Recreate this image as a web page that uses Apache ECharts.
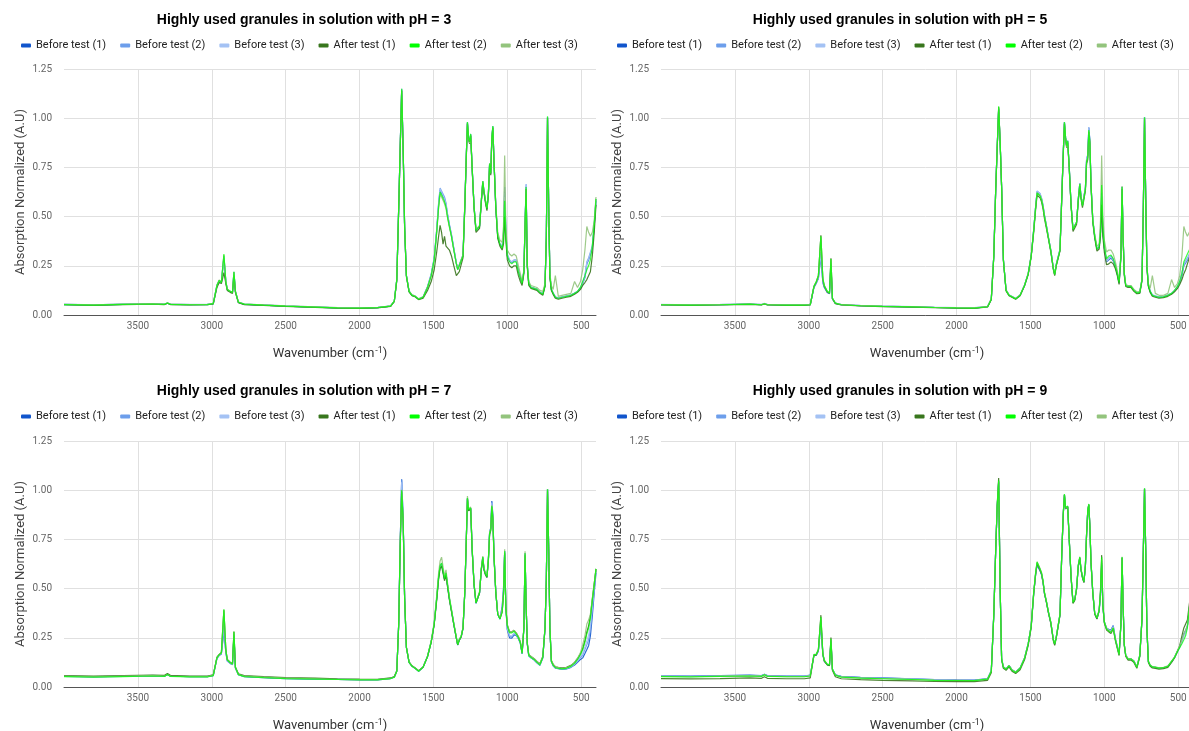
<!DOCTYPE html>
<html><head><meta charset="utf-8">
<script src="https://cdn.jsdelivr.net/npm/echarts@6/dist/echarts.min.js"></script>
<style>html,body{margin:0;padding:0;background:#fff}#c{width:1189px;height:731px}</style>
</head><body><div id="c"></div>
<script>
// ---- x grid (wavenumber, cm-1) shared by all series ----
const wavenumbers = [
 4000,3800,3600,3400,3320,3300,3280,3150,3030,
 2990,2965,2950,2935,2918,2905,2895,2875,2860,2850,2840,2820,2780,
 2650,2500,2300,2150,2000,1880,1790,
 1765,1748,1735,1725,1715,1705,1695,1683,1665,1645,1625,1600,1570,1540,1515,1495,
 1478,1465,1455,1445,1435,1425,1415,1405,1392,1378,1362,1345,1336,1325,1312,1300,
 1288,1278,1270,1262,1255,1248,1238,1225,1212,1200,1188,1176,1166,1158,1148,1138,
 1128,1120,1112,1105,1098,1090,1078,1065,1050,1035,1026,1018,1010,1000,
 985,970,955,940,925,912,900,888,880,873,865,855,840,820,800,780,760,745,
 736,728,720,712,702,690,675,655,630,600,570,545,525,505,490,475,462,450,438,425,412,400
];
const xTickValues = [3500,3000,2500,2000,1500,1000,500];
const seriesNames = ['Before test (1)','Before test (2)','Before test (3)','After test (1)','After test (2)','After test (3)'];
const seriesColors = ['#1155cc','#6d9eeb','#a4c2f4','#38761d','#00ff00','#93c47d'];
const panelTitles = [
 'Highly used granules in solution with pH = 3',
 'Highly used granules in solution with pH = 5',
 'Highly used granules in solution with pH = 7',
 'Highly used granules in solution with pH = 9'
];

// ---- pH = 3 ----
const ph3_before1 = [
 .053,.050,.054,.056,.054,.060,.054,.052,.053,
 .057,.148,.172,.163,.290,.168,.128,.118,.113,.215,.118,.064,.054,
 .050,.045,.040,.036,.035,.037,.045,
 .070,.180,.548,.848,1.145,.848,.448,.200,.120,.100,.095,.080,.090,.142,.205,.285,
 .430,.560,.635,.620,.610,.590,.560,.510,.455,.405,.335,.262,.232,.252,.242,.302,
 .552,.800,.975,.895,.875,.915,.745,.548,.430,.420,.450,.580,.675,.625,.578,.538,
 .618,.765,.718,.895,.955,.778,.548,.398,.358,.345,.400,.650,.420,.300,
 .275,.265,.275,.275,.225,.192,.160,.222,.462,.652,.252,.160,.140,.135,.130,.115,.105,.150,
 .400,1.005,.550,.200,.130,.110,.090,.085,.090,.095,.100,.110,.118,.135,.160,.190,.260,.280,.290,.340,.450,.580
];
const ph3_before2 = [
 .054,.051,.055,.057,.055,.061,.055,.053,.054,
 .058,.152,.176,.166,.300,.172,.130,.120,.116,.220,.120,.065,.055,
 .050,.045,.040,.036,.035,.037,.045,
 .070,.180,.552,.852,1.150,.852,.452,.202,.122,.102,.096,.082,.092,.145,.210,.290,
 .435,.570,.645,.630,.620,.600,.570,.515,.460,.410,.340,.265,.235,.255,.245,.305,
 .555,.805,.980,.900,.880,.920,.750,.550,.432,.422,.452,.582,.680,.630,.580,.540,
 .620,.770,.720,.900,.960,.780,.550,.400,.360,.350,.420,.620,.430,.310,
 .280,.270,.280,.280,.228,.195,.162,.225,.470,.665,.255,.162,.142,.137,.132,.117,.107,.152,
 .400,1.005,.552,.202,.132,.112,.092,.087,.092,.097,.102,.112,.120,.140,.165,.200,.270,.290,.300,.350,.460,.590
];
const ph3_before3 = [
 .055,.052,.056,.058,.056,.062,.056,.054,.055,
 .059,.150,.174,.165,.300,.170,.130,.120,.115,.218,.120,.066,.056,
 .051,.046,.041,.037,.036,.038,.046,
 .071,.180,.550,.850,1.148,.850,.450,.200,.121,.101,.096,.081,.091,.143,.205,.285,
 .430,.565,.640,.625,.615,.590,.565,.510,.455,.405,.335,.262,.233,.253,.243,.303,
 .553,.802,.978,.898,.878,.918,.748,.549,.431,.421,.451,.581,.678,.628,.579,.539,
 .619,.768,.719,.898,.958,.779,.549,.399,.359,.348,.410,.600,.420,.305,
 .278,.268,.278,.278,.226,.193,.161,.223,.465,.660,.253,.161,.141,.136,.131,.116,.106,.151,
 .400,1.005,.551,.201,.131,.111,.091,.086,.091,.096,.101,.111,.119,.138,.162,.195,.265,.285,.295,.345,.455,.585
];
const ph3_after1 = [
 .052,.049,.053,.055,.053,.060,.053,.051,.052,
 .056,.140,.165,.160,.215,.160,.125,.115,.110,.200,.115,.062,.053,
 .049,.044,.039,.035,.034,.036,.044,
 .068,.175,.540,.840,1.140,.840,.440,.195,.118,.098,.093,.078,.085,.125,.170,.230,
 .320,.400,.455,.420,.360,.400,.350,.360,.330,.300,.250,.200,.190,.220,.230,.290,
 .540,.790,.970,.890,.870,.910,.740,.540,.420,.410,.440,.570,.670,.620,.570,.530,
 .610,.760,.710,.890,.950,.770,.540,.390,.350,.330,.360,.500,.380,.280,
 .250,.240,.250,.250,.200,.170,.150,.210,.450,.640,.240,.150,.135,.130,.125,.110,.100,.145,
 .390,1.000,.540,.190,.125,.105,.085,.080,.085,.090,.095,.105,.115,.130,.150,.165,.180,.190,.220,.300,.420,.560
];
const ph3_after2 = [
 .053,.050,.054,.056,.054,.061,.054,.052,.053,
 .058,.150,.175,.165,.310,.170,.130,.120,.115,.220,.120,.065,.055,
 .050,.045,.040,.036,.035,.037,.045,
 .070,.180,.550,.850,1.150,.850,.450,.200,.120,.100,.095,.080,.090,.140,.200,.280,
 .420,.550,.625,.610,.600,.575,.550,.500,.450,.400,.330,.260,.230,.250,.240,.300,
 .550,.800,.980,.900,.880,.920,.750,.550,.430,.420,.450,.580,.680,.630,.580,.540,
 .620,.770,.720,.900,.960,.780,.550,.400,.360,.340,.380,.580,.400,.300,
 .270,.260,.270,.270,.220,.190,.160,.220,.460,.650,.250,.160,.140,.135,.130,.115,.105,.150,
 .400,1.010,.550,.200,.130,.110,.090,.085,.090,.095,.100,.110,.120,.140,.170,.200,.230,.250,.280,.350,.460,.590
];
const ph3_after3 = [
 .054,.051,.055,.057,.055,.062,.055,.053,.054,
 .059,.152,.178,.168,.305,.172,.132,.121,.116,.218,.121,.066,.056,
 .051,.046,.041,.037,.036,.038,.046,
 .071,.182,.552,.845,1.140,.845,.452,.202,.122,.102,.097,.082,.092,.142,.200,.280,
 .420,.545,.615,.600,.590,.565,.540,.495,.445,.398,.330,.262,.235,.255,.245,.305,
 .555,.800,.975,.895,.875,.915,.745,.550,.435,.425,.455,.585,.680,.630,.585,.545,
 .625,.770,.720,.900,.955,.780,.560,.420,.380,.370,.450,.810,.450,.330,
 .310,.300,.310,.300,.250,.210,.170,.230,.460,.640,.260,.170,.150,.145,.140,.125,.120,.160,
 .400,1.000,.550,.210,.150,.130,.200,.095,.100,.105,.110,.170,.140,.170,.230,.330,.450,.420,.400,.420,.480,.600
];

// ---- pH = 5 ----
const ph5_before1 = [
 .052,.050,.052,.055,.052,.057,.052,.050,.050,
 .052,.140,.160,.185,.300,.165,.140,.115,.108,.250,.082,.059,.052,
 .047,.044,.041,.038,.036,.035,.042,
 .080,.300,.640,.850,1.045,.875,.648,.280,.126,.101,.093,.083,.100,.150,.210,.300,
 .432,.548,.625,.632,.612,.590,.555,.505,.452,.392,.327,.237,.207,.257,.247,.332,
 .602,.822,.978,.898,.858,.884,.758,.558,.435,.440,.470,.590,.668,.604,.558,.552,
 .645,.790,.810,.950,.885,.662,.480,.400,.335,.345,.420,.600,.420,.340,
 .270,.280,.290,.275,.245,.205,.162,.300,.650,.400,.210,.150,.145,.145,.125,.112,.115,.180,
 .550,1.005,.600,.250,.150,.120,.100,.095,.090,.092,.100,.108,.122,.140,.165,.200,.250,.265,.280,.300,.330,.370
];
const ph5_before2 = [
 .053,.051,.053,.056,.053,.058,.053,.051,.051,
 .053,.142,.162,.188,.310,.168,.142,.117,.110,.255,.083,.060,.053,
 .048,.045,.042,.039,.037,.036,.043,
 .081,.302,.642,.852,1.048,.878,.650,.282,.127,.102,.094,.084,.101,.151,.211,.301,
 .433,.550,.630,.640,.618,.595,.560,.508,.455,.395,.328,.238,.208,.258,.248,.333,
 .603,.823,.980,.900,.860,.886,.760,.560,.437,.442,.472,.592,.670,.606,.560,.554,
 .648,.795,.815,.955,.890,.665,.482,.402,.337,.347,.425,.620,.430,.345,
 .275,.290,.300,.285,.255,.212,.165,.302,.652,.402,.212,.152,.147,.147,.127,.114,.117,.182,
 .552,1.005,.602,.252,.152,.122,.102,.097,.092,.094,.102,.110,.125,.145,.172,.215,.260,.275,.290,.310,.340,.380
];
const ph5_before3 = [
 .054,.052,.054,.057,.054,.059,.054,.052,.052,
 .054,.144,.164,.190,.320,.170,.144,.118,.111,.260,.084,.061,.054,
 .049,.046,.043,.040,.038,.037,.044,
 .082,.303,.643,.853,1.050,.879,.651,.283,.128,.103,.095,.085,.102,.152,.212,.302,
 .434,.551,.628,.636,.615,.592,.558,.506,.454,.394,.328,.238,.208,.258,.248,.333,
 .603,.823,.979,.899,.859,.885,.759,.559,.436,.441,.471,.591,.669,.605,.559,.553,
 .646,.792,.812,.952,.887,.663,.481,.401,.336,.346,.422,.610,.425,.342,
 .272,.285,.295,.280,.250,.208,.163,.301,.651,.401,.211,.151,.146,.146,.126,.113,.116,.181,
 .551,1.005,.601,.251,.151,.121,.101,.096,.091,.093,.101,.109,.123,.142,.168,.208,.255,.270,.285,.305,.335,.375
];
const ph5_after1 = [
 .051,.049,.051,.054,.051,.056,.051,.049,.049,
 .051,.144,.166,.198,.405,.180,.145,.117,.110,.288,.083,.058,.051,
 .046,.043,.040,.037,.035,.034,.041,
 .078,.295,.635,.845,1.055,.875,.645,.275,.122,.098,.090,.080,.098,.148,.205,.295,
 .420,.535,.610,.615,.595,.575,.540,.490,.440,.385,.320,.230,.200,.250,.240,.325,
 .590,.810,.970,.890,.850,.875,.750,.550,.425,.430,.460,.580,.655,.590,.545,.540,
 .630,.770,.790,.930,.870,.650,.470,.390,.325,.335,.400,.560,.400,.320,
 .255,.260,.270,.260,.235,.200,.155,.290,.640,.390,.200,.145,.140,.140,.120,.108,.110,.175,
 .540,.995,.590,.240,.145,.115,.095,.090,.085,.088,.095,.105,.118,.135,.155,.180,.210,.230,.260,.290,.320,.360
];
const ph5_after2 = [
 .052,.050,.052,.055,.052,.057,.052,.050,.050,
 .052,.146,.168,.200,.400,.185,.150,.120,.112,.285,.085,.060,.052,
 .047,.044,.041,.038,.036,.035,.042,
 .080,.300,.640,.850,1.060,.880,.650,.280,.125,.100,.092,.082,.100,.150,.210,.300,
 .430,.545,.620,.625,.605,.585,.550,.500,.450,.390,.325,.235,.205,.255,.245,.330,
 .600,.820,.980,.900,.860,.885,.760,.560,.435,.440,.470,.590,.665,.600,.555,.550,
 .640,.780,.800,.940,.880,.660,.480,.400,.335,.345,.420,.660,.450,.350,
 .285,.300,.305,.285,.250,.210,.165,.300,.650,.400,.210,.150,.145,.145,.125,.112,.115,.180,
 .550,1.005,.600,.250,.150,.120,.100,.095,.090,.092,.100,.110,.125,.145,.170,.210,.270,.290,.310,.330,.360,.400
];
const ph5_after3 = [
 .053,.051,.053,.056,.053,.058,.053,.051,.051,
 .053,.147,.169,.202,.398,.186,.151,.121,.113,.283,.086,.061,.053,
 .048,.045,.042,.039,.037,.036,.043,
 .081,.302,.642,.852,1.055,.882,.652,.282,.127,.102,.094,.084,.102,.152,.212,.302,
 .432,.547,.622,.627,.607,.587,.552,.502,.452,.392,.327,.237,.207,.257,.247,.332,
 .602,.822,.975,.895,.855,.880,.755,.555,.437,.442,.472,.592,.667,.602,.557,.552,
 .642,.782,.802,.935,.875,.662,.485,.410,.350,.360,.480,.810,.500,.380,
 .320,.330,.330,.310,.270,.225,.175,.310,.655,.405,.215,.155,.150,.150,.130,.118,.120,.185,
 .555,1.000,.600,.255,.160,.135,.200,.110,.100,.100,.110,.180,.140,.160,.200,.300,.450,.420,.400,.420,.440,.450
];

// ---- pH = 7 ----
const ph7_before1 = [
 .054,.051,.054,.057,.055,.063,.055,.052,.052,
 .058,.145,.160,.168,.285,.175,.132,.120,.113,.255,.096,.062,.053,
 .048,.043,.040,.038,.036,.036,.043,
 .050,.080,.325,.730,1.055,.860,.455,.200,.125,.105,.095,.080,.100,.155,.230,.320,
 .450,.558,.612,.625,.585,.548,.575,.518,.448,.388,.318,.248,.213,.238,.256,.298,
 .478,.738,.958,.898,.888,.908,.698,.518,.425,.433,.478,.598,.658,.598,.573,.558,
 .650,.785,.810,.945,.875,.665,.482,.370,.345,.410,.500,.690,.400,.290,
 .250,.248,.265,.262,.245,.222,.168,.298,.678,.418,.218,.158,.148,.138,.123,.110,.148,.298,
 .548,1.005,.700,.300,.128,.108,.096,.093,.090,.092,.100,.112,.125,.140,.148,.170,.190,.210,.260,.360,.480,.580
];
const ph7_before2 = [
 .055,.052,.055,.058,.056,.064,.056,.053,.053,
 .059,.146,.161,.170,.300,.178,.134,.121,.114,.262,.097,.063,.054,
 .049,.044,.041,.039,.037,.037,.044,
 .051,.081,.324,.728,1.050,.858,.454,.201,.126,.106,.096,.081,.101,.156,.231,.321,
 .451,.559,.614,.628,.588,.549,.577,.519,.449,.389,.319,.249,.214,.239,.257,.299,
 .479,.739,.959,.899,.889,.909,.699,.519,.426,.434,.479,.599,.659,.599,.574,.559,
 .651,.783,.806,.940,.870,.663,.481,.371,.346,.400,.490,.690,.401,.295,
 .258,.255,.270,.265,.247,.223,.169,.299,.679,.419,.219,.159,.149,.139,.124,.111,.149,.299,
 .549,1.005,.700,.300,.129,.109,.097,.094,.091,.093,.102,.115,.130,.150,.162,.190,.215,.240,.290,.390,.500,.590
];
const ph7_before3 = [
 .056,.053,.056,.059,.057,.065,.057,.054,.054,
 .060,.147,.162,.171,.320,.180,.135,.122,.115,.265,.098,.064,.055,
 .050,.045,.042,.040,.038,.038,.045,
 .052,.082,.323,.725,1.040,.855,.453,.202,.127,.107,.097,.082,.102,.157,.232,.322,
 .452,.560,.615,.629,.589,.550,.578,.520,.450,.390,.320,.250,.215,.240,.258,.300,
 .480,.740,.960,.900,.890,.910,.700,.520,.427,.435,.480,.600,.660,.600,.575,.560,
 .652,.782,.804,.935,.866,.662,.481,.371,.346,.395,.485,.690,.402,.300,
 .262,.260,.274,.267,.248,.224,.170,.300,.680,.420,.220,.160,.150,.140,.125,.112,.150,.300,
 .550,1.005,.700,.300,.130,.110,.098,.095,.092,.094,.103,.117,.135,.158,.175,.205,.235,.265,.310,.410,.510,.595
];
const ph7_after1 = [
 .058,.055,.058,.061,.059,.068,.059,.056,.056,
 .062,.152,.166,.176,.390,.190,.140,.126,.119,.282,.102,.067,.058,
 .053,.048,.045,.042,.040,.039,.046,
 .053,.082,.318,.715,.990,.845,.448,.202,.128,.108,.098,.083,.102,.155,.228,.315,
 .440,.548,.602,.615,.578,.540,.568,.510,.442,.383,.315,.248,.214,.238,.255,.298,
 .478,.735,.955,.895,.885,.905,.695,.518,.428,.436,.478,.595,.652,.595,.570,.556,
 .645,.775,.795,.915,.855,.655,.478,.372,.348,.382,.468,.680,.402,.315,
 .280,.280,.288,.275,.255,.230,.175,.300,.670,.418,.225,.165,.155,.145,.130,.118,.155,.300,
 .545,.995,.690,.300,.135,.115,.103,.100,.097,.100,.110,.125,.145,.170,.195,.235,.280,.310,.360,.445,.525,.600
];
const ph7_after2 = [
 .053,.050,.053,.056,.054,.063,.054,.051,.051,
 .058,.148,.163,.173,.395,.188,.138,.123,.116,.280,.098,.063,.053,
 .048,.043,.040,.038,.036,.036,.043,
 .050,.080,.320,.720,1.000,.850,.450,.200,.125,.105,.095,.080,.100,.155,.230,.320,
 .450,.560,.615,.630,.590,.550,.580,.520,.450,.390,.320,.250,.215,.240,.258,.300,
 .480,.740,.960,.900,.890,.910,.700,.520,.427,.435,.480,.600,.660,.600,.575,.560,
 .650,.780,.800,.920,.860,.660,.480,.370,.345,.380,.470,.690,.400,.310,
 .275,.275,.283,.270,.250,.225,.170,.300,.680,.420,.220,.160,.150,.140,.125,.112,.150,.300,
 .550,1.005,.700,.300,.130,.110,.098,.095,.092,.095,.105,.120,.140,.165,.190,.230,.270,.300,.350,.440,.520,.600
];
const ph7_after3 = [
 .055,.052,.055,.058,.056,.064,.056,.053,.053,
 .060,.149,.164,.174,.392,.189,.139,.124,.117,.278,.100,.064,.055,
 .050,.045,.042,.039,.037,.037,.044,
 .051,.081,.322,.722,1.002,.852,.452,.202,.127,.107,.097,.082,.102,.157,.235,.330,
 .465,.580,.640,.660,.610,.565,.595,.530,.458,.396,.325,.253,.218,.243,.260,.303,
 .483,.745,.970,.905,.895,.915,.705,.525,.432,.440,.485,.605,.665,.605,.580,.565,
 .655,.785,.805,.925,.865,.665,.485,.375,.350,.385,.475,.700,.405,.315,
 .280,.280,.288,.275,.255,.230,.175,.305,.690,.425,.225,.165,.155,.145,.130,.118,.155,.305,
 .555,1.005,.700,.305,.135,.115,.102,.098,.095,.098,.108,.125,.145,.175,.215,.260,.320,.340,.370,.450,.525,.600
];

// ---- pH = 9 ----
const ph9_before1 = [
 .057,.055,.058,.060,.058,.065,.058,.056,.056,
 .060,.160,.160,.182,.320,.165,.132,.114,.111,.230,.090,.062,.054,
 .049,.046,.042,.038,.036,.035,.043,
 .082,.368,.698,.915,1.040,.498,.144,.102,.092,.110,.087,.076,.097,.147,.220,.308,
 .475,.570,.620,.610,.590,.570,.532,.474,.432,.378,.326,.240,.218,.255,.255,.368,
 .678,.878,.975,.905,.895,.915,.755,.558,.430,.445,.498,.615,.655,.598,.558,.533,
 .618,.780,.895,.925,.818,.630,.478,.373,.348,.385,.465,.620,.410,.330,
 .300,.292,.290,.312,.245,.205,.168,.318,.655,.418,.215,.160,.144,.144,.132,.102,.160,.348,
 .698,1.005,.698,.300,.130,.110,.102,.100,.096,.098,.105,.128,.150,.182,.205,.240,.270,.285,.310,.395,.470,.530
];
const ph9_before2 = [
 .056,.054,.057,.059,.057,.064,.057,.055,.055,
 .059,.162,.162,.185,.330,.167,.133,.114,.111,.235,.090,.061,.053,
 .048,.045,.041,.037,.035,.034,.042,
 .081,.369,.699,.917,1.045,.499,.143,.101,.091,.109,.086,.075,.096,.146,.220,.309,
 .477,.574,.626,.616,.594,.574,.535,.476,.433,.379,.327,.241,.218,.255,.255,.369,
 .679,.879,.977,.907,.897,.917,.757,.559,.431,.446,.499,.617,.657,.599,.559,.534,
 .619,.780,.897,.927,.819,.631,.479,.374,.349,.387,.470,.630,.413,.331,
 .298,.290,.286,.310,.243,.203,.167,.319,.657,.419,.216,.161,.143,.143,.131,.101,.160,.349,
 .699,1.007,.699,.300,.130,.110,.102,.100,.096,.098,.105,.129,.150,.181,.205,.235,.265,.285,.310,.398,.475,.535
];
const ph9_before3 = [
 .055,.053,.056,.058,.056,.063,.056,.054,.054,
 .058,.163,.163,.187,.340,.168,.134,.115,.112,.240,.090,.061,.052,
 .047,.044,.040,.036,.034,.033,.041,
 .081,.369,.699,.918,1.048,.499,.143,.101,.091,.109,.086,.075,.096,.146,.220,.309,
 .478,.577,.630,.620,.597,.577,.537,.478,.434,.380,.327,.241,.218,.255,.255,.369,
 .679,.879,.978,.908,.898,.918,.758,.559,.431,.446,.499,.618,.658,.599,.559,.534,
 .619,.780,.898,.928,.819,.632,.479,.374,.349,.388,.475,.640,.416,.331,
 .297,.288,.283,.306,.242,.202,.166,.319,.658,.419,.216,.161,.143,.143,.131,.101,.160,.349,
 .699,1.008,.699,.300,.130,.110,.102,.100,.096,.098,.105,.129,.150,.181,.202,.228,.255,.275,.305,.398,.478,.538
];
const ph9_after1 = [
 .043,.041,.043,.046,.044,.052,.044,.042,.042,
 .046,.160,.162,.188,.365,.168,.132,.112,.108,.252,.085,.052,.042,
 .037,.034,.031,.028,.027,.027,.034,
 .072,.365,.700,.925,1.062,.505,.138,.095,.085,.102,.080,.068,.088,.138,.212,.302,
 .472,.572,.628,.618,.594,.574,.535,.475,.430,.375,.322,.235,.212,.250,.250,.365,
 .675,.875,.975,.905,.895,.915,.755,.555,.425,.440,.495,.615,.655,.595,.555,.530,
 .615,.775,.895,.925,.815,.628,.475,.370,.345,.390,.490,.670,.415,.325,
 .290,.280,.272,.295,.235,.195,.160,.315,.655,.415,.210,.155,.137,.137,.125,.095,.155,.345,
 .695,1.005,.695,.295,.125,.105,.097,.095,.091,.093,.100,.125,.148,.182,.210,.260,.300,.320,.340,.420,.490,.550
];
const ph9_after2 = [
 .053,.051,.054,.056,.054,.062,.054,.052,.052,
 .056,.165,.165,.190,.355,.170,.135,.115,.112,.245,.090,.060,.050,
 .045,.042,.038,.034,.033,.032,.040,
 .080,.370,.700,.920,1.050,.500,.142,.100,.090,.108,.085,.074,.095,.145,.220,.310,
 .480,.580,.635,.625,.600,.580,.540,.480,.435,.380,.328,.240,.218,.255,.255,.370,
 .680,.880,.980,.910,.900,.920,.760,.560,.430,.445,.500,.620,.660,.600,.560,.535,
 .620,.780,.900,.930,.820,.633,.480,.375,.350,.390,.480,.660,.420,.330,
 .295,.285,.278,.300,.240,.200,.165,.320,.660,.420,.215,.160,.142,.142,.130,.100,.160,.350,
 .700,1.010,.700,.300,.130,.110,.102,.100,.096,.098,.105,.130,.150,.180,.200,.220,.240,.260,.300,.400,.480,.540
];
const ph9_after3 = [
 .054,.052,.055,.057,.055,.063,.055,.053,.053,
 .057,.166,.166,.191,.352,.171,.136,.116,.113,.243,.091,.061,.051,
 .046,.043,.039,.035,.034,.033,.041,
 .081,.372,.702,.918,1.045,.502,.144,.102,.092,.110,.087,.076,.097,.147,.222,.312,
 .482,.582,.637,.627,.602,.582,.542,.482,.437,.382,.330,.242,.220,.257,.257,.372,
 .682,.882,.978,.908,.898,.918,.762,.562,.432,.447,.502,.622,.662,.602,.562,.537,
 .622,.782,.898,.928,.822,.635,.482,.377,.352,.392,.482,.650,.422,.332,
 .297,.287,.280,.302,.242,.202,.167,.322,.662,.422,.217,.162,.144,.144,.132,.102,.162,.352,
 .702,1.008,.702,.302,.132,.112,.104,.102,.098,.100,.107,.132,.152,.185,.210,.240,.270,.280,.310,.400,.480,.540
];

const panelData = [
 [ph3_before1, ph3_before2, ph3_before3, ph3_after1, ph3_after2, ph3_after3],
 [ph5_before1, ph5_before2, ph5_before3, ph5_after1, ph5_after2, ph5_after3],
 [ph7_before1, ph7_before2, ph7_before3, ph7_after1, ph7_after2, ph7_after3],
 [ph9_before1, ph9_before2, ph9_before3, ph9_after1, ph9_after2, ph9_after3]
];

// ---- layout (pixels) ----
const panelLayout = [
 {left: 64,  top: 69,  center: 304, legendLeft: 21,  titleTop: 13,  legendTop: 40},
 {left: 661, top: 69,  center: 900, legendLeft: 617, titleTop: 13,  legendTop: 40},
 {left: 64,  top: 441, center: 304, legendLeft: 21,  titleTop: 384, legendTop: 411},
 {left: 661, top: 441, center: 900, legendLeft: 617, titleTop: 384, legendTop: 411}
];
const PW = 532, PH = 246;
const drawOrder = [0, 1, 2, 3, 5, 4];

const grids = [], xAxes = [], yAxes = [], titles = [], legends = [], series = [];
panelLayout.forEach((L, i) => {
  grids.push({left: L.left, top: L.top, width: PW, height: PH, containLabel: false, outerBoundsMode: 'none'});
  titles.push({
    text: panelTitles[i], left: L.center, top: L.titleTop, textAlign: 'center', padding: 0,
    textStyle: {fontFamily: 'Liberation Sans', fontWeight: 'bold', fontSize: 14, color: '#000'}
  });
  legends.push({
    left: L.legendLeft, top: L.legendTop, width: 700, padding: 0, itemGap: 14, itemWidth: 10, itemHeight: 4,
    icon: 'roundRect', selectedMode: false,
    textStyle: {fontFamily: 'Roboto', fontSize: 11, color: '#222'},
    data: seriesNames.map((n, k) => ({name: n, itemStyle: {color: seriesColors[k]}}))
  });
  xAxes.push({
    gridIndex: i, type: 'value', inverse: true, min: 400, max: 4000,
    axisLine: {show: true, onZero: false, lineStyle: {color: '#555', width: 1}},
    axisTick: {show: false, customValues: xTickValues},
    axisLabel: {customValues: xTickValues, formatter: v => String(v), color: '#666', fontSize: 10, margin: 6, fontFamily: 'Roboto'},
    splitLine: {show: true, lineStyle: {color: '#e0e0e0', width: 1}},
    name: 'Wavenumber (cm{sup|-1})', nameLocation: 'middle', nameGap: 31,
    nameTextStyle: {fontFamily: 'Roboto', fontSize: 13, color: '#333',
      rich: {sup: {fontFamily: 'Roboto', fontSize: 9, color: '#333', verticalAlign: 'top', padding: [0, 0, 6, 1]}}}
  });
  yAxes.push({
    gridIndex: i, type: 'value', min: 0, max: 1.25, interval: 0.25,
    axisLine: {show: false}, axisTick: {show: false},
    axisLabel: {formatter: v => v.toFixed(2), color: '#666', fontSize: 10, margin: 12, fontFamily: 'Roboto'},
    splitLine: {show: true, lineStyle: {color: '#e0e0e0', width: 1}},
    name: 'Absorption Normalized (A.U)', nameLocation: 'middle', nameGap: 37,
    nameTextStyle: {fontFamily: 'Roboto', fontSize: 13, color: '#444'}
  });
  drawOrder.forEach((k, z) => {
    series.push({
      name: seriesNames[k], type: 'line', xAxisIndex: i, yAxisIndex: i,
      data: wavenumbers.map((w, j) => [w, panelData[i][k][j]]),
      showSymbol: false, symbol: 'none', smooth: false, silent: true, z: 2 + z * 0.01,
      lineStyle: {color: seriesColors[k], width: 1.2, opacity: k === 4 ? 0.75 : 0.9},
      itemStyle: {color: seriesColors[k]},
      clip: true
    });
  });
});

const chart = echarts.init(document.getElementById('c'), null, {renderer: 'canvas'});
chart.setOption({
  animation: false, backgroundColor: '#fff',
  title: titles, legend: legends, grid: grids, xAxis: xAxes, yAxis: yAxes, series: series
});
</script>
</body></html>
